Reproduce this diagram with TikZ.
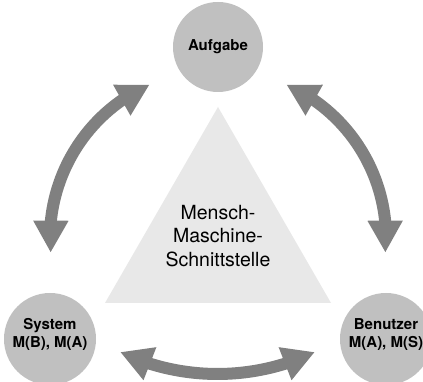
\documentclass[tikz,border=0pt]{standalone}
\usepackage{fontspec}
\setmainfont{TeX Gyre Heros}
\usetikzlibrary{arrows.meta,bending}
\definecolor{bubblegray}{RGB}{192,192,192}
\definecolor{arrowgray}{RGB}{128,128,128}
\definecolor{trigray}{RGB}{232,232,232}
\tikzset{
  bubble/.style={circle,fill=bubblegray,draw=none,minimum size=92pt,inner sep=0pt},
  lbl/.style={font=\fontsize{15}{18}\selectfont\bfseries,align=center,inner sep=0pt},
  centerlbl/.style={font=\fontsize{19.5}{23.5}\selectfont,align=center,inner sep=0pt},
  link/.style={draw=arrowgray,line width=12pt,
    {Triangle[length=32pt,width=33pt,fill=arrowgray]}-{Triangle[length=32pt,width=33pt,fill=arrowgray]}},
}
\begin{document}
\begin{tikzpicture}[x=1pt,y=1pt]
  \fill[white] (0,0) rectangle (423,382);
  \useasboundingbox (0,0) rectangle (423,382);

  % central interface triangle
  \fill[trigray] (105,79) -- (218,275) -- (331,79) -- cycle;
  \node[centerlbl] (mmi) at (218,146) {Mensch-\\Maschine-\\Schnittstelle};

  % the three partners
  \node[bubble,minimum size=90pt] (task) at (218,335) {};
  \node[bubble] (sys) at (50,43) {};
  \node[bubble] (user) at (386,43) {};
  \node[lbl] (tasklbl) at (task.center) {Aufgabe};
  \node[lbl] (syslbl) at ([yshift=4.5pt]sys.center) {System\\M(B), M(A)};
  \node[lbl] (userlbl) at ([yshift=4.5pt]user.center) {Benutzer\\M(A), M(S)};

  % curved double arrows between the partners
  \coordinate (hub) at (218,144);
  \path (hub) ++(185:168) coordinate (leftend);
  \path (hub) ++(66:168) coordinate (rightend);
  \coordinate (bothub) at (217.5,235);
  \path (bothub) ++(244.6:227) coordinate (botend);

  \draw[link] (leftend) arc[start angle=185,end angle=114,radius=168];
  \draw[link] (rightend) arc[start angle=66,end angle=-5,radius=168];
  \draw[link] (botend) arc[start angle=244.6,end angle=295.4,radius=227];
\end{tikzpicture}
\end{document}
